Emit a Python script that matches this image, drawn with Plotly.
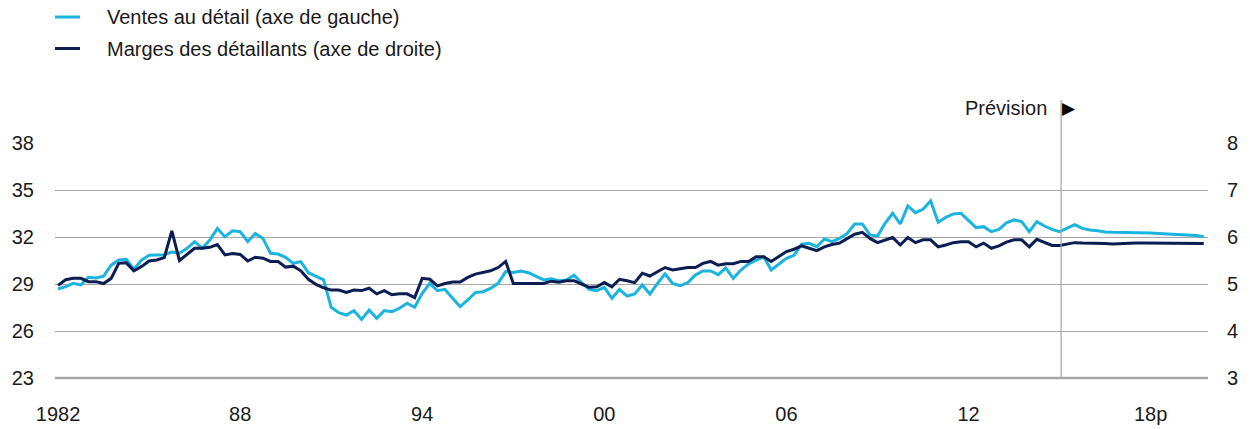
import plotly.graph_objects as go

_TEXT = "#1a1a1a"
_GRID = "#a6a6a6"
_CYAN = "#1ab4de"
_NAVY = "#0b1d51"
_FONT = "Liberation Sans, Arial, Helvetica, sans-serif"

# Données trimestrielles, 1982T1 à 2019T4 (prévision à partir de 2015)
annee_debut = 1982
annee_prevision = 2015.05

ventes = [
    28.68, 28.83, 29.04, 28.94, 29.43, 29.38, 29.50, 30.20, 30.53, 30.57,
    29.94, 30.53, 30.83, 30.83, 30.87, 31.04, 30.96, 31.28, 31.70, 31.28,
    31.80, 32.55, 32.02, 32.40, 32.34, 31.70, 32.23, 31.91, 30.96, 30.91,
    30.70, 30.32, 30.43, 29.72, 29.51, 29.26, 27.51, 27.17, 27.02, 27.30,
    26.74, 27.34, 26.81, 27.30, 27.23, 27.45, 27.77, 27.51, 28.40, 29.04,
    28.57, 28.66, 28.09, 27.55, 27.98, 28.45, 28.51, 28.72, 29.04, 29.79,
    29.74, 29.83, 29.72, 29.51, 29.26, 29.34, 29.21, 29.26, 29.57, 29.09,
    28.66, 28.57, 28.79, 28.09, 28.66, 28.23, 28.36, 28.94, 28.36, 29.04,
    29.64, 29.04, 28.89, 29.09, 29.57, 29.83, 29.83, 29.60, 30.02, 29.36,
    29.89, 30.28, 30.53, 30.74, 29.89, 30.28, 30.64, 30.83, 31.55, 31.60,
    31.38, 31.87, 31.70, 31.91, 32.23, 32.83, 32.83, 32.13, 32.06, 32.87,
    33.51, 32.83, 33.98, 33.55, 33.77, 34.30, 32.94, 33.26, 33.47, 33.51,
    33.04, 32.60, 32.66, 32.34, 32.49, 32.91, 33.09, 32.98, 32.34, 32.98,
    32.70, 32.49, 32.34, 32.55, 32.79, 32.55, 32.45, 32.40, 32.32, 32.30,
    32.30, 32.28, 32.26, 32.26, 32.26, 32.23, 32.21, 32.19, 32.17, 32.13,
    32.09, 32.02,
]

marges = [
    4.97, 5.09, 5.12, 5.12, 5.05, 5.05, 5.01, 5.12, 5.44, 5.45,
    5.28, 5.37, 5.49, 5.51, 5.56, 6.13, 5.50, 5.63, 5.76, 5.76,
    5.78, 5.84, 5.62, 5.65, 5.63, 5.49, 5.57, 5.55, 5.48, 5.48,
    5.36, 5.38, 5.28, 5.10, 4.99, 4.92, 4.87, 4.87, 4.82, 4.87,
    4.86, 4.91, 4.79, 4.86, 4.77, 4.79, 4.79, 4.71, 5.12, 5.10,
    4.96, 5.01, 5.04, 5.04, 5.14, 5.21, 5.24, 5.28, 5.35, 5.48,
    5.01, 5.01, 5.01, 5.01, 5.01, 5.06, 5.04, 5.07, 5.07, 5.00,
    4.93, 4.94, 5.03, 4.94, 5.10, 5.07, 5.03, 5.23, 5.17, 5.26,
    5.35, 5.30, 5.33, 5.35, 5.35, 5.44, 5.48, 5.40, 5.43, 5.43,
    5.48, 5.48, 5.58, 5.58, 5.48, 5.58, 5.69, 5.74, 5.81, 5.76,
    5.71, 5.79, 5.84, 5.87, 5.97, 6.06, 6.10, 5.97, 5.88, 5.94,
    5.99, 5.83, 5.99, 5.88, 5.94, 5.94, 5.79, 5.83, 5.88, 5.90,
    5.90, 5.79, 5.87, 5.76, 5.81, 5.89, 5.94, 5.94, 5.79, 5.95,
    5.89, 5.82, 5.82, 5.85, 5.88, 5.87, 5.87, 5.87, 5.86, 5.85,
    5.86, 5.87, 5.87, 5.87, 5.87, 5.87, 5.87, 5.87, 5.87, 5.87,
    5.87, 5.86,
]

trimestres = [annee_debut + i / 4 for i in range(len(ventes))]

tick_vals = [1982, 1988, 1994, 2000, 2006, 2012, 2018]
tick_text = ["1982", "88", "94", "00", "06", "12", "18p"]

legende = [
    ("Ventes au détail (axe de gauche)", _CYAN),
    ("Marges des détaillants (axe de droite)", _NAVY),
]

fig = go.Figure()
fig.add_trace(go.Scatter(x=trimestres, y=ventes, mode="lines", name=legende[0][0],
                         line=dict(color=_CYAN, width=3)))
fig.add_trace(go.Scatter(x=trimestres, y=marges, mode="lines", name=legende[1][0],
                         yaxis="y2", line=dict(color=_NAVY, width=3)))

# légende dessinée à la main (échantillons courts, comme l'original)
for i, (label, color) in enumerate(legende):
    y = 1.536 - i * 0.134
    fig.add_shape(type="line", xref="paper", yref="paper", x0=0, x1=0.0217, y0=y, y1=y,
                  line=dict(color=color, width=3))
    fig.add_annotation(text=label, xref="paper", yref="paper", x=0.043, y=y,
                       xanchor="left", yanchor="middle", showarrow=False,
                       font=dict(size=20, color=_TEXT))

# ligne de prévision
fig.add_shape(type="line", xref="x", yref="paper", x0=annee_prevision, x1=annee_prevision,
              y0=0, y1=1.183, line=dict(color=_GRID, width=1.2))
fig.add_annotation(text="Prévision", xref="x", yref="paper", x=annee_prevision, y=1.149,
                   xanchor="right", yanchor="middle", xshift=-12, showarrow=False,
                   font=dict(size=20, color=_TEXT))
fig.add_annotation(text="▶", xref="x", yref="paper", x=annee_prevision, y=1.149,
                   xanchor="left", yanchor="middle", xshift=-1, showarrow=False,
                   font=dict(size=17, color="#000000", family="DejaVu Sans"))

fig.update_layout(
    width=1250, height=429,
    paper_bgcolor="#ffffff", plot_bgcolor="#ffffff",
    font=dict(family=_FONT, size=20, color=_TEXT),
    margin=dict(l=55, r=42, t=143, b=51, autoexpand=False),
    showlegend=False,
    xaxis=dict(range=[1981.90, 2019.89], tickvals=tick_vals, ticktext=tick_text,
               showgrid=False, zeroline=False, showline=False, ticks="",
               ticklabelstandoff=22, automargin=False),
    yaxis=dict(range=[23, 38], dtick=3, tick0=23, showgrid=True, gridcolor=_GRID,
               gridwidth=1.2, zeroline=False, showline=False, ticks="",
               ticklabelstandoff=20, automargin=False),
    yaxis2=dict(range=[3, 8], dtick=1, tick0=3, overlaying="y", side="right",
                showgrid=False, zeroline=False, showline=False, ticks="",
                ticklabelstandoff=18, automargin=False),
)

# ligne de base plus épaisse
fig.add_shape(type="line", xref="paper", yref="paper", x0=0, x1=1, y0=0, y1=0,
              line=dict(color=_GRID, width=2.5), layer="below")

fig.write_html("out.html", config={"responsive": False, "displayModeBar": False},
               post_script="document.body.style.margin='0';document.body.style.overflow='hidden';")
